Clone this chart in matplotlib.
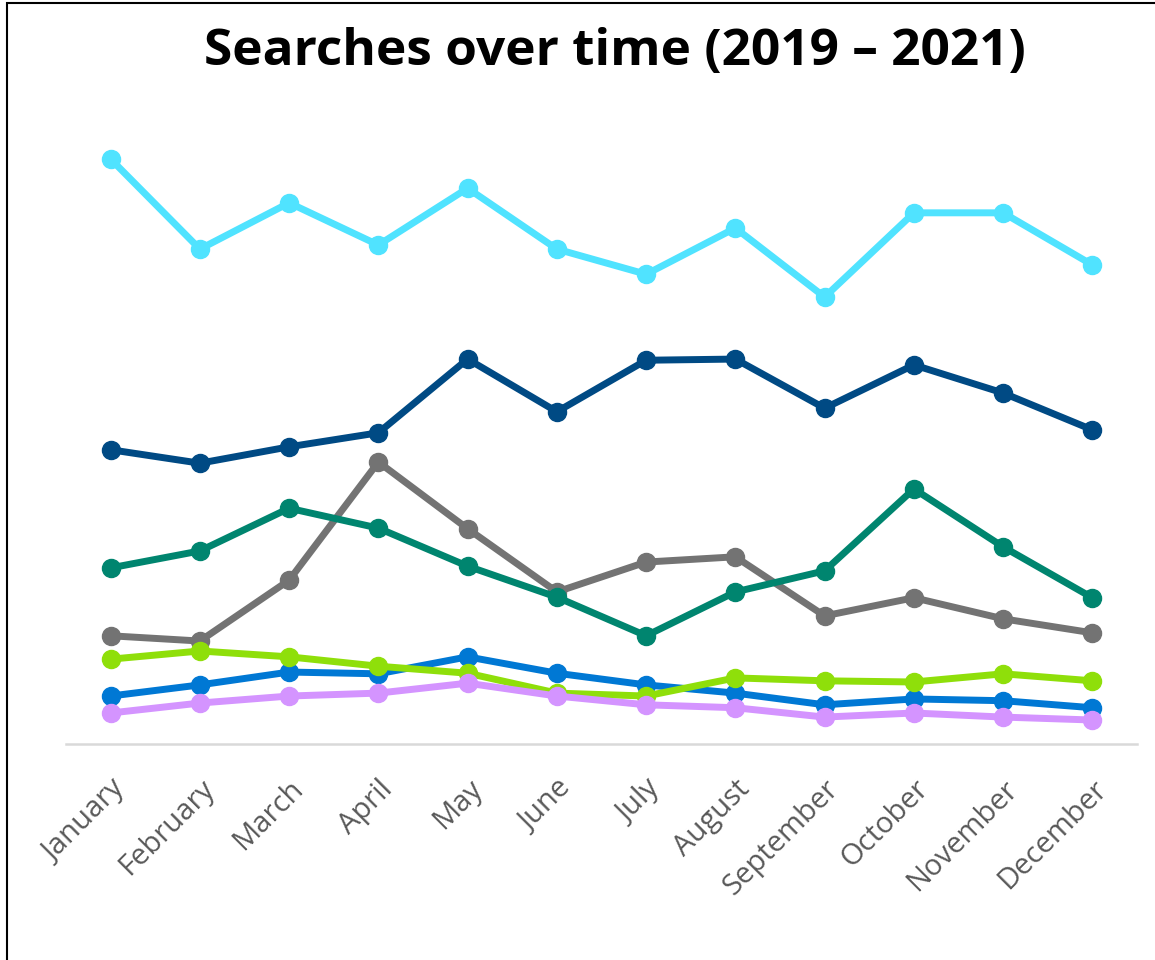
import matplotlib.pyplot as plt
import matplotlib.patches as patches

# Month labels on the x axis
months = ["January", "February", "March", "April", "May", "June",
          "July", "August", "September", "October", "November", "December"]

# Search interest per month (relative, 0-100)
cyan_vals = [100, 84.6, 92.5, 85.3, 95.0, 84.6, 80.3, 88.2, 76.4, 90.8, 90.8, 81.9]
navy_vals = [50.3, 48.0, 50.8, 53.2, 65.8, 56.8, 65.6, 65.8, 57.4, 64.8, 60.0, 53.7]
gray_vals = [18.5, 17.6, 28.0, 48.2, 36.8, 26.0, 31.1, 32.0, 21.9, 25.0, 21.4, 19.0]
teal_vals = [30.1, 33.0, 40.3, 36.9, 30.4, 25.1, 18.5, 26.0, 29.6, 43.6, 33.7, 25.0]
blue_vals = [8.2, 10.1, 12.3, 12.0, 14.9, 12.1, 10.1, 8.7, 6.7, 7.7, 7.4, 6.2]
lime_vals = [14.5, 15.9, 14.9, 13.3, 12.1, 8.7, 8.2, 11.3, 10.8, 10.6, 12.0, 10.8]
lavender_vals = [5.3, 7.0, 8.2, 8.7, 10.4, 8.2, 6.7, 6.2, 4.6, 5.3, 4.6, 4.1]

series = [
    (cyan_vals, "#50E3FF"),
    (navy_vals, "#004A84"),
    (gray_vals, "#737373"),
    (teal_vals, "#00856F"),
    (blue_vals, "#0078D4"),
    (lime_vals, "#8FDF0A"),
    (lavender_vals, "#D494FF"),
]

fig = plt.figure(figsize=(11.55, 9.6), dpi=100)
ax = fig.add_axes([66 / 1155, 1 - 744 / 960, 1071 / 1155, 614 / 960])

x = list(range(len(months)))
for vals, color in series:
    ax.plot(x, vals, color=color, linewidth=5, marker="o", markersize=13,
            solid_capstyle="round")

ax.set_xlim(-0.5, len(months) - 0.5)
ax.set_ylim(0, 614 / 5.85)

for side in ["top", "right", "left"]:
    ax.spines[side].set_visible(False)
ax.spines["bottom"].set_color("#d9d9d9")
ax.spines["bottom"].set_linewidth(1.8)
ax.set_yticks([])
ax.set_xticks(x)
ax.set_xticklabels(months, rotation=45, ha="right", rotation_mode="anchor",
                   fontsize=21, color="#595959", family="Open Sans")
ax.tick_params(axis="x", length=0, pad=22)

fig.text(615 / 1155, 1 - 52 / 960, "Searches over time (2019 \u2013 2021)",
         ha="center", va="center", fontsize=37, fontweight="bold",
         family="Open Sans")

# frame around the whole picture
border = patches.Rectangle((7 / 1155, -0.1), 1.2, 1 - 3 / 960 + 0.1,
                           transform=fig.transFigure, fill=False,
                           edgecolor="black", linewidth=1.5)
fig.add_artist(border)

fig.savefig("out.png", dpi=100)
